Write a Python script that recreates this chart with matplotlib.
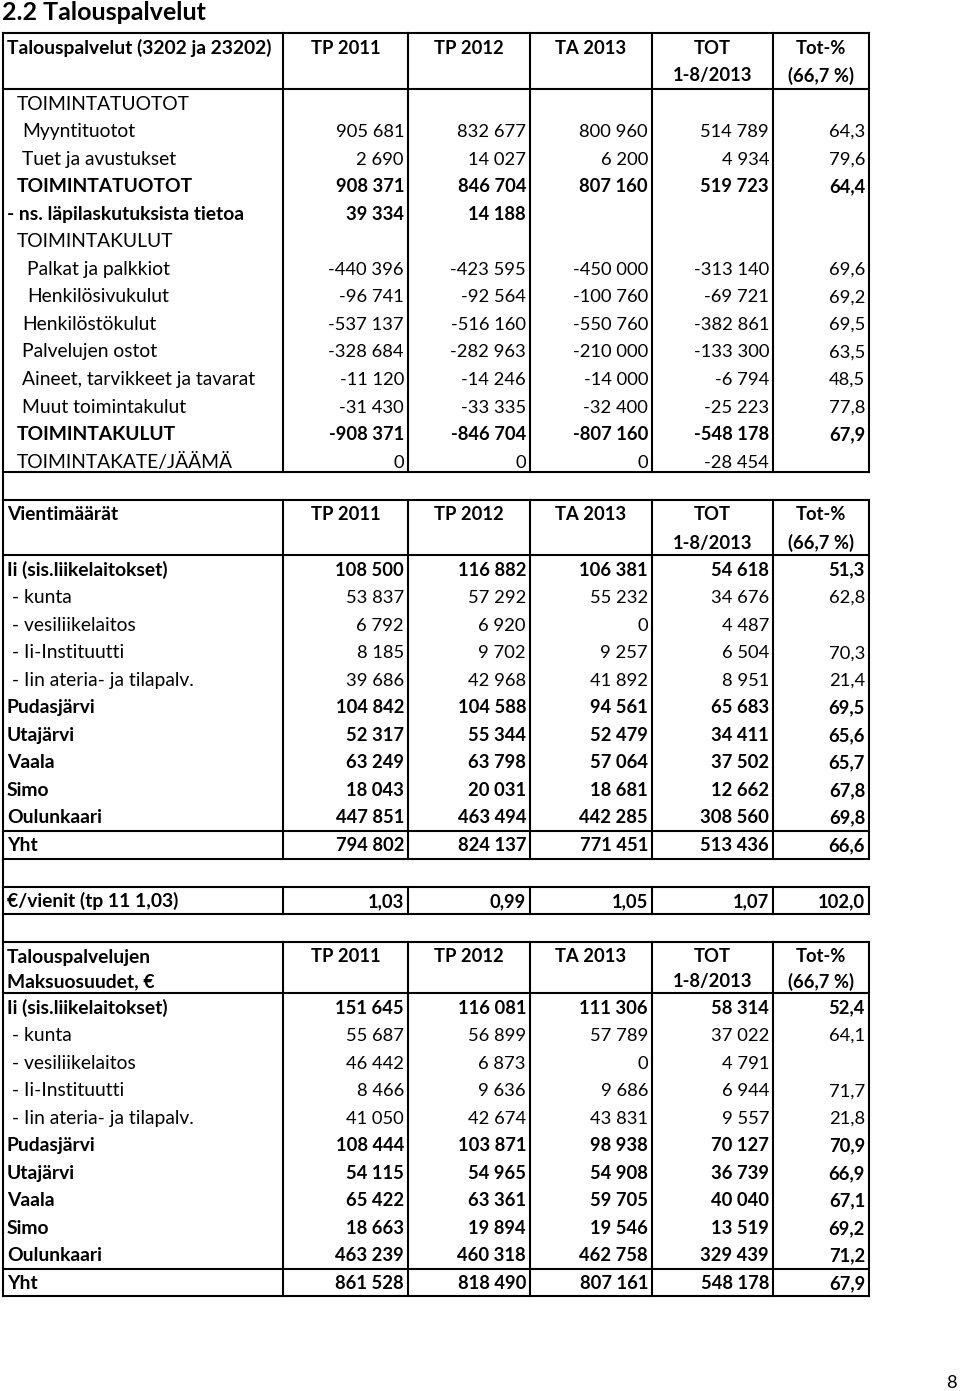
import matplotlib.pyplot as plt

plt.rcParams['font.family'] = ['Lato', 'DejaVu Sans']

# === data === #
col_heads = ["TP 2011", "TP 2012", "TA 2013", "TOT", "Tot-%"]
col_heads2 = ["", "", "", "1-8/2013", "(66,7 %)"]

labels1 = ["TOIMINTATUOTOT", "Myyntituotot", "Tuet ja avustukset", "TOIMINTATUOTOT",
           "- ns. läpilaskutuksista tietoa", "TOIMINTAKULUT", "Palkat ja palkkiot",
           "Henkilösivukulut", "Henkilöstökulut", "Palvelujen ostot",
           "Aineet, tarvikkeet ja tavarat", "Muut toimintakulut", "TOIMINTAKULUT",
           "TOIMINTAKATE/JÄÄMÄ"]
indent1 = [2, 3, 3, 2, 0, 2, 4, 4, 3, 3, 3, 3, 2, 2]
bold1 = [False, False, False, True, True, False, False, False, False, False,
         False, False, True, False]
tp2011_1 = [None, 905681, 2690, 908371, 39334, None, -440396, -96741, -537137,
            -328684, -11120, -31430, -908371, 0]
tp2012_1 = [None, 832677, 14027, 846704, 14188, None, -423595, -92564, -516160,
            -282963, -14246, -33335, -846704, 0]
ta2013_1 = [None, 800960, 6200, 807160, None, None, -450000, -100760, -550760,
            -210000, -14000, -32400, -807160, 0]
tot_1 = [None, 514789, 4934, 519723, None, None, -313140, -69721, -382861,
         -133300, -6794, -25223, -548178, -28454]
pct_1 = [None, 64.3, 79.6, 64.4, None, None, 69.6, 69.2, 69.5, 63.5, 48.5, 77.8,
         67.9, None]

units = ["Ii (sis.liikelaitokset)", " - kunta", " - vesiliikelaitos", " - Ii-Instituutti",
         " - Iin ateria- ja tilapalv.", "Pudasjärvi", "Utajärvi", "Vaala", "Simo",
         "Oulunkaari", "Yht"]
bold_units = [True, False, False, False, False, True, True, True, True, True, True]

tp2011_2 = [108500, 53837, 6792, 8185, 39686, 104842, 52317, 63249, 18043, 447851, 794802]
tp2012_2 = [116882, 57292, 6920, 9702, 42968, 104588, 55344, 63798, 20031, 463494, 824137]
ta2013_2 = [106381, 55232, 0, 9257, 41892, 94561, 52479, 57064, 18681, 442285, 771451]
tot_2 = [54618, 34676, 4487, 6504, 8951, 65683, 34411, 37502, 12662, 308560, 513436]
pct_2 = [51.3, 62.8, None, 70.3, 21.4, 69.5, 65.6, 65.7, 67.8, 69.8, 66.6]

ratio_label = "€/vienit (tp 11 1,03)"
ratio_vals = [1.03, 0.99, 1.05, 1.07]
ratio_pct = 102.0

tp2011_3 = [151645, 55687, 46442, 8466, 41050, 108444, 54115, 65422, 18663, 463239, 861528]
tp2012_3 = [116081, 56899, 6873, 9636, 42674, 103871, 54965, 63361, 19894, 460318, 818490]
ta2013_3 = [111306, 57789, 0, 9686, 43831, 98938, 54908, 59705, 19546, 462758, 807161]
tot_3 = [58314, 37022, 4791, 6944, 9557, 70127, 36739, 40040, 13519, 329439, 548178]
pct_3 = [52.4, 64.1, None, 71.7, 21.8, 70.9, 66.9, 67.1, 69.2, 71.2, 67.9]


def fmt_int(v):
    if v is None:
        return ""
    return f"{v:,}".replace(",", " ")


def fmt_dec(v, nd=1):
    if v is None:
        return ""
    return f"{v:.{nd}f}".replace(".", ",")


# === layout (pixels) === #
W, H = 960, 1391
fig = plt.figure(figsize=(W / 100, H / 100), dpi=100)
ax = fig.add_axes([0, 0, 1, 1])
ax.set_xlim(0, W)
ax.set_ylim(H, 0)
ax.axis('off')

xs = [3, 283, 408, 530, 652, 773, 869]
rh = 27.55
fs = 13.9      # labels / headers
fsn = 13.2     # numbers
lw = 1.5
bo = 6.5       # centre -> baseline offset


def txt(x, y, s, ha='left', size=fs, bold=False):
    ax.text(x, y + bo, s, ha=ha, va='baseline', fontsize=size,
            fontweight='bold' if bold else 'normal')


def hline(y, x0=xs[0], x1=xs[-1]):
    ax.plot([x0, x1], [y, y], color='black', lw=lw, solid_capstyle='projecting')


def vlines(y0, y1, cols=xs):
    for x in cols:
        ax.plot([x, x], [y0, y1], color='black', lw=lw, solid_capstyle='projecting')


def num_row(y, vals, bold=False):
    for i, s in enumerate(vals):
        if s:
            txt(xs[i + 2] - 4, y, s, ha='right', size=fsn, bold=bold)


def header(y0, title_lines, dy2):
    for k, t in enumerate(title_lines):
        txt(7, y0 + 14 + k * dy2, t, bold=True)
    for i, (a, b) in enumerate(zip(col_heads, col_heads2)):
        xc = (xs[i + 1] + xs[i + 2]) / 2
        txt(xc, y0 + 14, a, ha='center', size=fsn, bold=True)
        if b:
            txt(xc, y0 + 14 + dy2, b, ha='center', size=fsn, bold=True)


# title
ax.text(2, 20, "2.2 Talouspalvelut", ha='left', va='baseline', fontsize=18, fontweight='bold')

# === section 1 === #
top1, hb1, bot1 = 33, 89, 472
hline(top1); hline(hb1); hline(bot1)
vlines(top1, bot1)
header(top1, ["Talouspalvelut (3202 ja 23202)"], 28)
for r, lab in enumerate(labels1):
    y = 103 + r * rh
    txt(7 + indent1[r] * 5, y, lab, bold=bold1[r])
    num_row(y, [fmt_int(tp2011_1[r]), fmt_int(tp2012_1[r]), fmt_int(ta2013_1[r]),
                fmt_int(tot_1[r]), fmt_dec(pct_1[r])], bold1[r])

# spacer
top2, hb2, yl2, bot2 = 500, 555, 831, 859
ax.plot([xs[0], xs[0]], [bot1, top2], color='black', lw=lw)

# === section 2 === #
hline(top2); hline(hb2); hline(yl2); hline(bot2)
vlines(top2, bot2)
header(top2, ["Vientimäärät"], 28)
for r, lab in enumerate(units):
    y = 569 + r * rh
    txt(7, y, lab, bold=bold_units[r])
    num_row(y, [fmt_int(tp2011_2[r]), fmt_int(tp2012_2[r]), fmt_int(ta2013_2[r]),
                fmt_int(tot_2[r]), fmt_dec(pct_2[r])], bold_units[r])

# === ratio row === #
top_r, bot_r = 887, 914
ax.plot([xs[0], xs[0]], [bot2, top_r], color='black', lw=lw)
hline(top_r); hline(bot_r)
vlines(top_r, bot_r)
y = (top_r + bot_r) / 2
txt(7, y, ratio_label, bold=True)
num_row(y, [fmt_dec(v, 2) for v in ratio_vals] + [fmt_dec(ratio_pct)], True)

# === section 3 === #
top3, hb3, yl3, bot3 = 942, 993, 1269, 1296
ax.plot([xs[0], xs[0]], [bot_r, top3], color='black', lw=lw)
hline(top3); hline(hb3); hline(yl3); hline(bot3)
vlines(top3, bot3)
header(top3, ["Talouspalvelujen", "Maksuosuudet, €"], 25)
for r, lab in enumerate(units):
    y = 1007 + r * rh
    txt(7, y, lab, bold=bold_units[r])
    num_row(y, [fmt_int(tp2011_3[r]), fmt_int(tp2012_3[r]), fmt_int(ta2013_3[r]),
                fmt_int(tot_3[r]), fmt_dec(pct_3[r])], bold_units[r])

# page number
txt(957, 1382, "8", ha='right', size=fsn)

fig.savefig('out.png', dpi=100)
